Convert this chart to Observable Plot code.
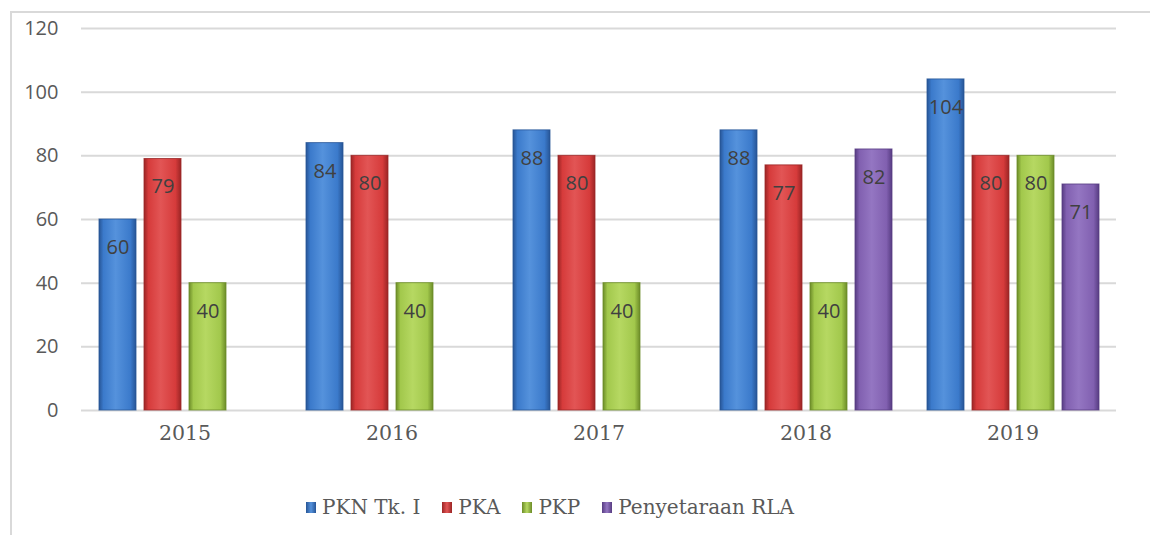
<!DOCTYPE html>
<html>
<head>
<meta charset="utf-8">
<script src="https://cdn.jsdelivr.net/npm/d3@7"></script>
<script src="https://cdn.jsdelivr.net/npm/@observablehq/plot@0.6"></script>
<style>
  html, body { margin: 0; padding: 0; background: #fff; width: 1150px; height: 535px; overflow: hidden; }
  #frame { position: absolute; left: 10px; top: 11px; width: 1145px; height: 540px;
           border-left: 2px solid #d9d9d9; border-top: 2px solid #d9d9d9; }
  #chart { position: absolute; left: 0; top: 0; }
  #legend { position: absolute; left: 306px; top: 495px; display: flex; align-items: center;
            font-family: "DejaVu Serif", "Liberation Serif", serif; font-size: 20px; color: #595959; }
  .item { display: flex; align-items: center; margin-right: 22px; }
  .sw { width: 10px; height: 11px; margin-right: 6px; }
</style>
</head>
<body>
<div id="frame"></div>
<div id="chart"></div>
<div id="legend"></div>
<script>
const years = ["2015", "2016", "2017", "2018", "2019"];
const seriesNames = ["PKN Tk. I", "PKA", "PKP", "Penyetaraan RLA"];
const pknTk1 = [60, 84, 88, 88, 104];
const pka = [79, 80, 80, 77, 80];
const pkp = [40, 40, 40, 40, 80];
const penyetaraanRla = [null, null, null, 82, 71];
const yTicks = [0, 20, 40, 60, 80, 100, 120];

const baseColors = ["#3b7acb", "#d63b3b", "#a2c84c", "#8160b0"];
const edgeColors = ["#275596", "#9b2525", "#6c8c28", "#573c82"];
const lightColors = ["#5592dc", "#e25555", "#b6d862", "#9476c2"];

const allValues = [pknTk1, pka, pkp, penyetaraanRla];
const table = [];
years.forEach((yr, i) => {
  seriesNames.forEach((s, j) => {
    const v = allValues[j][i];
    if (v != null) table.push({ year: yr, series: s, value: v });
  });
});

const gradIds = seriesNames.map((s, j) => "grad" + j);

const chart = Plot.plot({
  width: 1150,
  height: 460,
  marginLeft: 80,
  marginRight: 33,
  marginTop: 28,
  marginBottom: 50,
  style: { background: "transparent", overflow: "visible" },
  facet: { data: table, x: "year" },
  fx: { domain: years, padding: 0, axis: "bottom", tickSize: 0, tickPadding: 15, label: null },
  x: { domain: seriesNames, paddingInner: 0.187, paddingOuter: 0.373, axis: null },
  y: { domain: [0, 120], ticks: yTicks, tickSize: 0, tickPadding: 23, label: null },
  color: { domain: seriesNames, range: gradIds.map(id => `url(#${id})`) },
  marks: [
    Plot.ruleY(yTicks, { stroke: "#d9d9d9", strokeWidth: 2 }),
    Plot.barY(table, { x: "series", y: "value", fill: "series", stroke: "series", strokeWidth: 1 }),
    Plot.text(table, { x: "series", y: "value", text: d => String(d.value), dy: 28,
      fill: "#404040", fontSize: 20, fontFamily: "Open Sans, Noto Sans, sans-serif" })
  ]
});

const svgEl = chart.tagName.toLowerCase() === "svg" ? chart : chart.querySelector("svg");
const svg = d3.select(svgEl);
const yTickStrings = yTicks.map(String);
svg.selectAll("text").each(function() {
  if (this.closest("[aria-label='text']")) return;
  const t = this.textContent.trim();
  if (years.includes(t)) {
    d3.select(this).style("font-size", "20.5px").style("fill", "#595959")
      .style("font-family", "'DejaVu Serif', 'Liberation Serif', serif");
  } else if (yTickStrings.includes(t)) {
    d3.select(this).style("font-size", "20px").style("fill", "#595959")
      .style("font-family", "'Open Sans', 'Noto Sans', sans-serif");
  }
});

// gradient definitions for the bevelled bar look
const defs = svg.insert("defs", ":first-child");
seriesNames.forEach((s, j) => {
  const g = defs.append("linearGradient").attr("id", gradIds[j]).attr("x1", "0").attr("x2", "1").attr("y1", "0").attr("y2", "0");
  g.append("stop").attr("offset", "0%").attr("stop-color", edgeColors[j]);
  g.append("stop").attr("offset", "12%").attr("stop-color", baseColors[j]);
  g.append("stop").attr("offset", "45%").attr("stop-color", lightColors[j]);
  g.append("stop").attr("offset", "85%").attr("stop-color", baseColors[j]);
  g.append("stop").attr("offset", "100%").attr("stop-color", edgeColors[j]);
});
svg.selectAll("[aria-label='bar'] rect").each(function() {
  const f = d3.select(this).attr("stroke");
  if (f && f.startsWith("url(#grad")) {
    const j = +f.match(/grad(\d)/)[1];
    d3.select(this).attr("stroke", edgeColors[j]).attr("stroke-opacity", 0.8);
  }
});

document.getElementById("chart").appendChild(chart);

const legend = document.getElementById("legend");
seriesNames.forEach((s, j) => {
  const item = document.createElement("div");
  item.className = "item";
  const sw = document.createElement("div");
  sw.className = "sw";
  sw.style.background = `linear-gradient(to right, ${edgeColors[j]}, ${lightColors[j]} 50%, ${edgeColors[j]})`;
  const label = document.createElement("span");
  label.textContent = s;
  item.appendChild(sw);
  item.appendChild(label);
  legend.appendChild(item);
});
</script>
</body>
</html>
